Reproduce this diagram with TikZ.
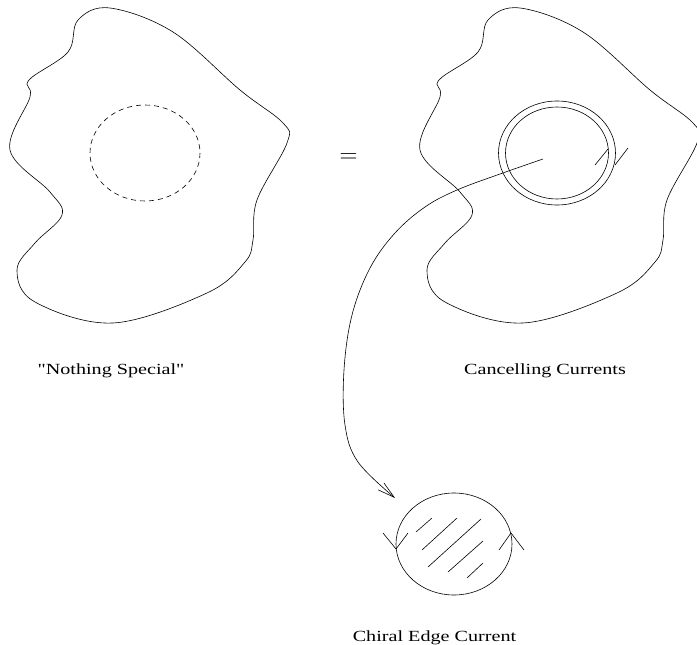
\documentclass[tikz,border=0pt]{standalone}
\usepackage{fontspec}
\setmainfont{Liberation Serif}[Ligatures=TeXOff]
\usepackage{tikz}
\usetikzlibrary{arrows.meta, positioning, calc}
\newcommand{\blobpts}{(110,8) (173,32) (240,90) (283,123) (287,143) (257,200) (253,240) (245,262) (207,293) (113,323) (35,302) (17,270) (35,243) (62,215) (50,192) (10,150) (30,97) (29,80) (68,52) (78,20)}

\begin{document}
\begin{tikzpicture}[x=1pt, y=-1pt, line width=0.6pt, every node/.style={inner sep=0pt}]
  \tikzset{caption/.style={font=\fontsize{15.5}{18}\selectfont, xscale=1.3, anchor=base}}
  \useasboundingbox (0,0) rectangle (697,645);
  % the two regions
  \draw plot[smooth cycle, tension=0.6] coordinates {\blobpts};
  \draw[shift={(410,0)}] plot[smooth cycle, tension=0.6] coordinates {\blobpts};
  \draw[dashed, dash pattern=on 5pt off 4pt] (145,153) ellipse [x radius=55, y radius=48];
  \node (EQ) at (348.5,158) {\fontsize{24}{24}\selectfont$=$};
  % double loop with opposite currents
  \draw (557,153) ellipse [x radius=58.5, y radius=52];
  \draw (557,153) ellipse [x radius=51.5, y radius=46];
  \draw (595,165) -- (608,149);
  \draw (615,165) -- (628,148);
  % pulled out disc
  \draw (454,544) ellipse [x radius=58, y radius=51];
  \draw (383,533) -- (396,549) -- (408,533);
  \draw (499,550) -- (511,533) -- (524,550);
  \foreach \a/\b in {{416,532}/{432,518}, {422,550}/{457,518}, {428,567}/{481,519}, {448,572}/{483,541}, {467,578}/{483,563}}
    \draw (\a) -- (\b);
  \coordinate (S) at (543,159);
  \coordinate (E) at (395,498);
  \draw[-{Straight Barb[length=17pt, width=9pt]}] plot[smooth, tension=0.6] coordinates {(S) (500,174) (457,190) (425,207) (395,233) (370,268) (352,315) (344,370) (345,425) (358,462) (E)};
  % labels
  \node[caption] (L1) at (111,374) {"Nothing Special"};
  \node[caption] (L2) at (545,374) {Cancelling Currents};
  \node[caption] (L3) at (434.5,641) {Chiral Edge Current};
\end{tikzpicture}
\end{document}
